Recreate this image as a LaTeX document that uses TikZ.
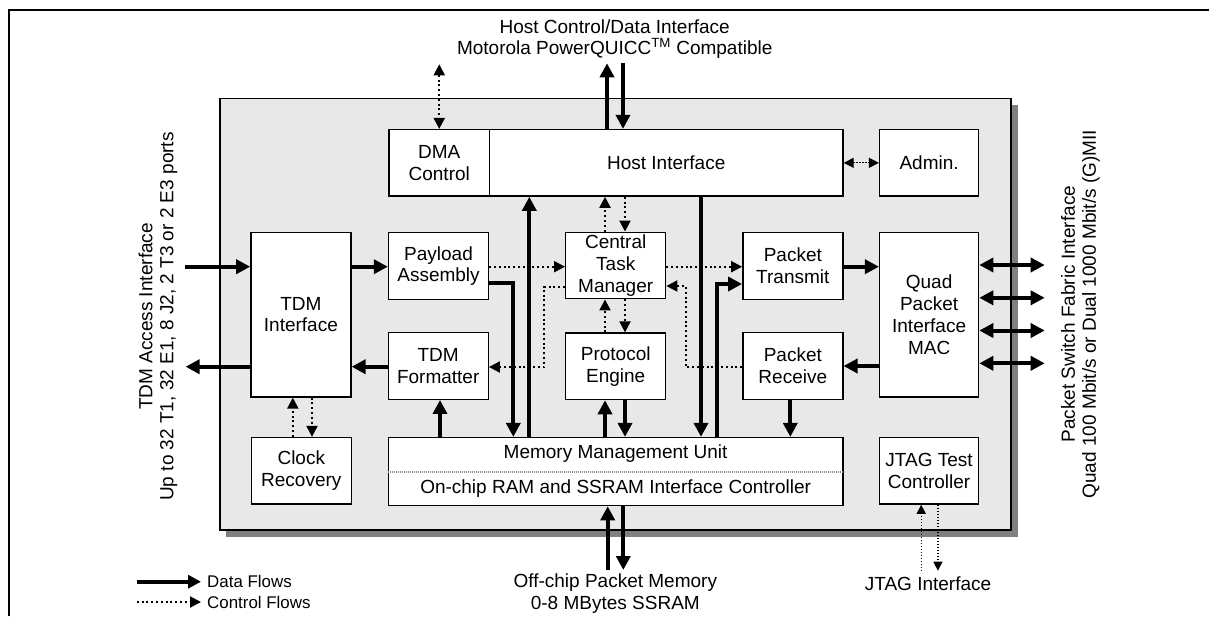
\documentclass[tikz,border=0pt]{standalone}
\usepackage{fontspec}
\setmainfont{Liberation Sans}
\usetikzlibrary{arrows.meta}
\newcommand{\dgfont}{\fontsize{19}{21.7}\selectfont}
\newcommand{\lgfont}{\fontsize{16.9}{20}\selectfont}
\tikzset{
  box/.style={draw, line width=1.4pt, fill=white, minimum width=100pt, minimum height=66.5pt,
    inner sep=0pt, align=center, font=\dgfont},
  lbl/.style={align=center, font=\dgfont, inner sep=0pt},
  data/.style={line width=4pt, line join=miter, -{Triangle[length=14pt,width=14pt]}},
  datab/.style={line width=4pt, {Triangle[length=14pt,width=14pt]}-{Triangle[length=14pt,width=14pt]}},
  ctrl/.style={line width=2pt, dash pattern=on 2pt off 2.8pt, -{Triangle[length=11pt,width=11pt]}},
  ctrlb/.style={line width=2pt, dash pattern=on 2pt off 2.8pt, {Triangle[length=11pt,width=11pt]}-{Triangle[length=11pt,width=11pt]}},
  fine/.style={line width=1.2pt, dash pattern=on 1.2pt off 1.8pt, -{Triangle[length=9pt,width=9pt]}},
  fineb/.style={line width=1.2pt, dash pattern=on 1.2pt off 1.8pt, {Triangle[length=10pt,width=10pt]}-{Triangle[length=10pt,width=10pt]}},
}
\begin{document}
\begin{tikzpicture}[x=1pt,y=-1pt]
\useasboundingbox (0,0) rectangle (1209,616);
\fill[white] (0,0) rectangle (1209,616);
% outer frame (top and left edges)
\draw[line width=2.5pt] (9,616) -- (9,10) -- (1209,10);

% chip with shadow
\fill[black!50] (226,105) rectangle (1017.5,536.5);
\draw[line width=1.4pt, fill=black!9] (220,98.7) rectangle (1011,530);

% boxes
\node[box, minimum width=100.5pt] (dma) at (439.25,162.85) {DMA\\Control};
\node[box, minimum width=353.5pt] (host) at (666.25,162.85) {Host Interface};
\node[box, minimum width=99pt] (admin) at (929.1,162.85) {Admin.};
\node[box, minimum height=164.5pt] (tdmif) at (300.9,314.7) {TDM\\Interface};
\node[box] (payload) at (438.5,266) {Payload\\Assembly};
\node[box] (ctm) at (615.7,265.5) {Central\\Task\\Manager};
\node[box] (ptx) at (792.8,266) {Packet\\Transmit};
\node[box, minimum width=99pt, minimum height=164.5pt] (quad) at (929.1,314.7) {Quad\\Packet\\Interface\\MAC};
\node[box] (fmt) at (438.2,366) {TDM\\Formatter};
\node[box] (pe) at (615.7,366.3) {Protocol\\Engine};
\node[box] (prx) at (792.8,366) {Packet\\Receive};
\node[box] (clock) at (301.3,470.8) {Clock\\Recovery};
\node[box, minimum width=454.4pt, minimum height=68pt] (mmu) at (615.6,471.6) {};
\node[box, minimum width=99pt] (jtag) at (929.1,470.8) {JTAG Test\\Controller};
\draw[black!45, line width=1.6pt, dash pattern=on 1pt off 1pt] (mmu.west |- 0,471.7) -- (mmu.east |- 0,471.7);
\node[lbl] (mmutxt) at (615.6,453.5) {Memory Management Unit};
\node[lbl] (ramtxt) at (615.6,488.5) {On-chip RAM and SSRAM Interface Controller};

% outside labels
\node[lbl, font=\fontsize{19}{21}\selectfont] (hosttxt) at (614.7,38.8) {Host Control/Data Interface\\Motorola PowerQUICC\textsuperscript{TM} Compatible};
\node[lbl, rotate=90, font=\fontsize{19}{21}\selectfont] (tdmtxt) at (157.9,316.5) {TDM Access Interface\\Up to 32 T1, 32 E1, 8 J2, 2 T3 or 2 E3 ports};
\node[lbl, rotate=90, font=\fontsize{19}{21}\selectfont] (pkttxt) at (1080.5,314.2) {Packet Switch Fabric Interface\\Quad 100 Mbit/s or Dual 1000 Mbit/s (G)MII};
\node[lbl, font=\fontsize{19}{22}\selectfont] (memtxt) at (615.3,594) {Off-chip Packet Memory\\0-8 MBytes SSRAM};
\node[lbl] (jtagtxt) at (928,583.3) {JTAG Interface};

% free ends
\coordinate (tdmin) at (184.8,266.7);
\coordinate (tdmout) at (185.6,366.7);
\coordinate (hostup) at (607,63.3);
\coordinate (hostdn) at (623,63.3);
\coordinate (dmatop) at (439.25,64.3);
\coordinate (memup) at (607.7,570);
\coordinate (memdn) at (623.3,570);
\coordinate (jtagup) at (921.2,570.7);
\coordinate (jtagdn) at (937.9,570.7);

% TDM side
\draw[data] (tdmin) -- (tdmif.west |- tdmin);
\draw[data] (tdmif.east |- 0,266.7) -- (payload.west |- 0,266.7);
\draw[data] (fmt.west |- 0,366.7) -- (tdmif.east |- 0,366.7);
\draw[data] (tdmif.west |- tdmout) -- (tdmout);
\draw[ctrl] (292.8,0 |- clock.north) -- (292.8,0 |- tdmif.south);
\draw[ctrl] (312,0 |- tdmif.south) -- (312,0 |- clock.north);
\draw[data] (440,0 |- mmu.north) -- (440,0 |- fmt.south);

% payload / host / mmu
\draw[data] (payload.east |- 0,283.3) -- (513.3,283.3) -- (513.3,0 |- mmu.north);
\draw[data] (529.3,0 |- mmu.north) -- (529.3,0 |- host.south);
\draw[ctrl] (payload.east |- 0,266.7) -- (ctm.west |- 0,266.7);
\draw[ctrl] (ctm.west |- 0,286.7) -| (544,367) -- (fmt.east |- 0,367);
\draw[ctrl] (605,0 |- ctm.north) -- (605,0 |- host.south);
\draw[ctrl] (625,0 |- host.south) -- (625,0 |- ctm.north);
\draw[ctrl] (605,0 |- pe.north) -- (605,0 |- ctm.south);
\draw[ctrl] (625,0 |- ctm.south) -- (625,0 |- pe.north);
\draw[data] (605,0 |- mmu.north) -- (605,0 |- pe.south);
\draw[data] (625,0 |- pe.south) -- (625,0 |- mmu.north);
\draw[data] (701,0 |- host.south) -- (701,0 |- mmu.north);
\draw[data] (717.3,0 |- mmu.north) -- (717.3,284) -- (ptx.west |- 0,284);
\draw[ctrl] (ctm.east |- 0,266.7) -- (ptx.west |- 0,266.7);
\draw[ctrl] (prx.west |- 0,367.3) -| (686,286) -- (ctm.east |- 0,286);

% packet side
\draw[data] (ptx.east |- 0,266.7) -- (quad.west |- 0,266.7);
\draw[data] (quad.west |- 0,366) -- (prx.east |- 0,366);
\draw[data] (790.3,0 |- prx.south) -- (790.3,0 |- mmu.north);
\coordinate (pf1) at (1044.7,265);
\coordinate (pf2) at (1044.7,297.8);
\coordinate (pf3) at (1044.7,330.5);
\coordinate (pf4) at (1044.7,363.3);
\foreach \p in {pf1,pf2,pf3,pf4} \draw[datab] (quad.east |- \p) -- (\p);

% host interface top
\draw[data] (607,0 |- host.north) -- (hostup);
\draw[data] (hostdn) -- (623,0 |- host.north);
\draw[ctrlb] (dmatop) -- (dma.north);
\draw[fineb] (host.east) -- (admin.west);

% memory bottom
\draw[data] (memup) -- (607.7,0 |- mmu.south);
\draw[data] (623.3,0 |- mmu.south) -- (memdn);

% JTAG
\draw[fine] (jtagup) -- (921.2,0 |- jtag.south);
\draw[fine] (937.9,0 |- jtag.south) -- (jtagdn);

% legend
\coordinate (lg1a) at (136.7,581.7);
\coordinate (lg1b) at (201,581.7);
\coordinate (lg2a) at (136.7,602);
\coordinate (lg2b) at (201,602);
\draw[data, -{Triangle[length=13pt,width=13pt]}] (lg1a) -- (lg1b);
\draw[ctrl] (lg2a) -- (lg2b);
\node[lbl, anchor=west, font=\lgfont] (lgdata) at (207,581.7) {Data Flows};
\node[lbl, anchor=west, font=\lgfont] (lgctrl) at (207,602) {Control Flows};
\end{tikzpicture}
\end{document}
